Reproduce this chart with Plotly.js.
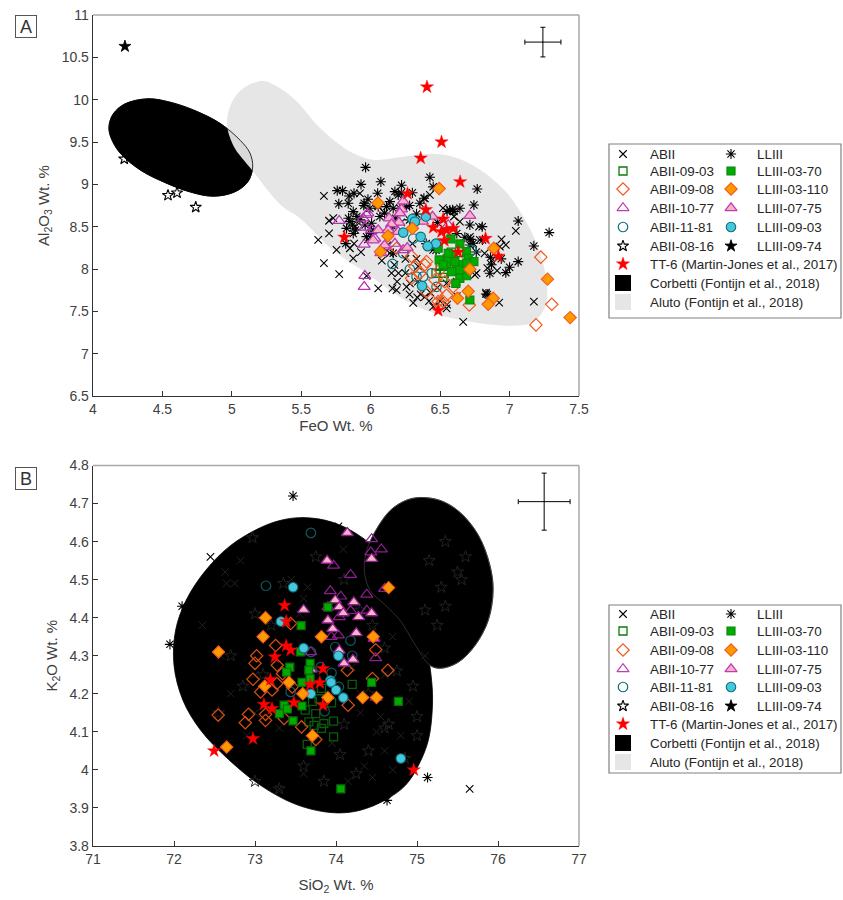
<!DOCTYPE html>
<html>
<head>
<meta charset="utf-8">
<script src="https://cdn.plot.ly/plotly-3.0.1.min.js"></script>
<style>html,body{margin:0;padding:0;background:#fff}#chart{width:843px;height:900px}</style>
</head>
<body>
<div id="chart"></div>
<script>
// ---------- Panel A (FeO, Al2O3) ----------
const aluto_A_x = [5.224,5.31,5.455,5.635,5.83,5.90,6.015,6.21,6.45,6.62,6.79,6.98,7.125,7.22,7.27,7.255,7.17,7.025,6.74,6.45,6.21,5.97,5.73,5.49,5.35,5.145,5.01,4.965,5.0,5.095];
const aluto_A_y = [10.22,10.17,10.0,9.665,9.405,9.35,9.29,9.32,9.36,9.31,9.17,8.90,8.54,8.19,7.79,7.55,7.37,7.33,7.37,7.48,7.67,7.95,8.22,8.60,8.76,9.17,9.46,9.72,9.97,10.15];
const corbetti_A_x = [4.396,4.555,4.735,4.915,5.06,5.13,5.15,5.115,5.02,4.865,4.70,4.52,4.34,4.195,4.13,4.115,4.145,4.23];
const corbetti_A_y = [10.01,9.97,9.87,9.72,9.52,9.37,9.205,9.03,8.91,8.86,8.91,9.02,9.17,9.37,9.55,9.68,9.83,9.95];

const abii_A_x = [5.622,5.70,5.663,5.773,5.754,5.874,5.85,6.054,6.157,6.186,6.19,6.258,6.306,6.335,6.39,5.97,6.666,7.175,6.925,7.045,6.942,6.973,6.762,6.84,6.82,5.663,5.922,5.73,5.70,6.546,6.45,6.282,6.642,6.426,6.39,6.714,6.786,6.75,6.93,6.546,6.342,6.45,6.138,6.22,6.12,6.30,6.52,6.60,6.87,6.43,6.25,6.17,5.98,6.05,5.89,6.91,6.78,6.50,6.36,6.62,6.2,6.28,6.34,6.42,6.48,6.55,6.62,6.25,6.33,6.08,6.15,5.88,5.93,6.12,6.83];
const abii_A_y = [8.343,8.42,8.07,7.94,8.225,8.126,8.245,7.77,7.77,7.75,7.85,7.79,7.60,7.666,7.67,7.92,7.375,7.615,7.603,8.45,8.35,8.284,7.95,8.01,8.185,8.863,8.894,8.6,8.57,7.536,7.556,7.83,8.56,8.875,8.835,8.38,8.343,7.93,8.264,7.83,8.03,8.225,8.186,8.55,8.42,8.30,8.72,8.62,8.10,7.72,7.95,8.05,8.35,8.75,8.50,7.98,8.50,7.62,7.70,7.68,7.95,7.7,7.85,7.62,7.78,7.58,7.85,8.12,8.12,8.1,7.95,8.3,8.2,8.28,7.72];
const lliii_A_x = [5.963,5.93,6.073,6.222,6.426,6.45,6.767,5.759,5.797,5.88,5.845,5.77,5.953,5.98,6.05,6.138,6.174,6.198,6.22,6.383,5.874,5.85,5.826,5.874,6.066,6.054,6.162,6.57,6.642,6.743,6.714,6.803,7.062,7.285,7.175,7.062,7.0,6.973,6.858,6.863,6.83,6.805,6.678,6.162,5.97,5.922,6.006,5.838,6.114,6.258,6.354,6.21,5.994,6.738,6.714,6.59,6.60,6.02,6.10,5.90,5.96,6.28,6.40,6.47,6.84,6.94,5.82,5.89,6.16,6.62,6.28,6.33,6.72,6.76,6.87,5.95,6.0,5.84,5.87,6.55,6.48,6.3,6.18];
const lliii_A_y = [9.2,9.0,9.03,8.99,9.083,8.97,8.945,8.926,8.926,8.894,8.863,8.77,8.776,8.823,8.894,8.796,8.914,8.875,8.90,8.835,8.678,8.56,8.48,8.42,8.62,8.737,8.717,8.697,8.717,8.756,8.52,8.50,8.567,8.43,8.272,8.087,8.02,7.957,7.95,8.138,7.705,8.343,8.375,8.186,8.382,8.58,8.54,8.776,8.737,8.737,8.776,8.717,8.717,8.304,8.284,8.70,8.68,8.46,8.66,8.62,8.52,8.58,8.30,8.22,7.70,8.12,8.30,8.46,8.50,8.42,8.75,8.65,8.35,8.2,8.05,8.75,8.42,8.6,8.52,8.68,8.55,8.9,8.6];
const s0903_A_x = [6.50,6.53,6.60,6.55,6.62,6.65,6.58,6.52,6.47,6.56];
const s0903_A_y = [8.03,7.95,8.0,8.12,8.0,8.1,8.2,7.9,7.95,8.06];
const s0908_A_x = [7.225,7.304,7.19,6.71,6.69,6.186,6.294,6.318,6.294,6.402,6.39,6.498,6.462,6.402,6.474,6.546,6.486,6.522,6.498,6.594,6.534,6.354];
const s0908_A_y = [8.14,7.583,7.34,7.575,7.99,8.245,8.15,8.03,7.89,8.087,8.05,7.99,7.87,7.73,7.71,7.69,7.615,7.615,7.575,7.79,7.85,7.95];
const s1077_A_x = [5.773,5.958,5.953,5.953,5.97,5.946,5.98,5.958,6.006,6.174,6.09,6.558,6.234,6.03];
const s1077_A_y = [8.57,7.92,7.79,8.29,8.64,8.60,8.66,8.49,8.46,8.30,8.26,8.52,8.225,8.36];
const s1181_A_x = [6.157,6.306,6.234,6.282,6.378,6.33,6.474,6.726,6.438,6.318];
const s1181_A_y = [8.06,8.36,8.186,7.997,7.91,7.91,7.79,8.225,7.95,8.56];
const s0816_A_x = [4.54,4.605,4.74,4.225];
const s0816_A_y = [8.87,8.90,8.73,9.30];
const l0370_A_x = [6.577,6.642,6.486,6.69,6.594,6.493,6.558,6.623,6.702,6.743,6.546,6.582,6.642,6.69,6.613,6.714,6.666,6.522,6.606,6.642,6.558,6.69];
const l0370_A_y = [8.355,8.296,8.245,8.205,8.166,8.107,8.10,8.05,8.127,8.087,8.03,7.97,7.89,7.92,7.83,7.634,8.05,8.05,8.087,7.99,8.185,8.07];
const l03110_A_x = [6.493,6.052,6.30,6.124,6.07,6.887,6.714,7.273,6.702,6.625,6.882,6.846,7.436];
const l03110_A_y = [8.95,8.78,8.48,8.39,8.205,8.245,7.997,7.88,7.737,7.654,7.654,7.583,7.426];
const l0775_A_x = [6.234,6.222,6.21,6.133,6.203,6.15,6.054,6.126,6.198,6.018,6.10,6.073,6.263,6.373,6.445,6.714];
const l0775_A_y = [8.80,8.705,8.66,8.60,8.55,8.53,8.46,8.46,8.44,8.34,8.28,8.19,8.25,8.56,8.62,8.63];
const l0903_A_x = [6.30,6.318,6.397,6.234,6.36,6.47,6.41,6.37];
const l0903_A_y = [8.59,8.56,8.62,8.43,8.38,8.30,8.27,7.80];
const l0974_A_x = [4.23];
const l0974_A_y = [10.63];
const tt6_A_x = [6.405,6.51,6.36,6.644,6.265,6.397,6.522,6.45,6.546,6.594,6.51,6.53,5.81,6.827,6.92,6.63,6.486];
const tt6_A_y = [10.15,9.50,9.31,9.03,8.89,8.70,8.59,8.49,8.46,8.48,8.44,8.335,8.375,8.36,8.15,8.20,7.51];
const err_A = {x:[7.24], y:[10.68], ex:[0.13], ey:[0.175]};

// ---------- Panel B (SiO2, K2O) ----------
const blobL_B_x = [73.56,73.87,74.18,74.49,74.73,74.94,75.10,75.18,75.19,75.14,75.02,74.86,74.61,74.30,74.02,73.69,73.38,73.01,72.64,72.33,72.11,72.0,72.02,72.15,72.39,72.70,73.07,73.32];
const blobL_B_y = [4.663,4.656,4.63,4.582,4.524,4.446,4.341,4.236,4.165,4.078,4.013,3.96,3.921,3.894,3.887,3.897,3.921,3.968,4.034,4.104,4.183,4.275,4.367,4.446,4.524,4.59,4.637,4.656];
const blobR_B_x = [75.04,75.29,75.53,75.76,75.90,75.94,75.88,75.72,75.51,75.29,75.16,74.98,74.79,74.61,74.42,74.35,74.38,74.49,74.67,74.86];
const blobR_B_y = [4.716,4.708,4.677,4.616,4.538,4.472,4.393,4.328,4.283,4.267,4.275,4.328,4.393,4.433,4.472,4.524,4.577,4.629,4.682,4.708];

const abii_B_x = [72.45,75.65,74.03];
const abii_B_y = [4.56,3.95,4.64];
const lliii_B_x = [73.47,71.95,72.1,75.13,74.63];
const lliii_B_y = [4.72,4.33,4.43,3.98,3.92];
const hiddenX_B_x = [72.82,72.63,72.75,72.65,72.35,72.58,73.0,73.45,73.6,74.09,73.65,73.55,73.0,72.9,73.3,72.7,74.3,74.5,74.6,74.7,74.45,74.15,74.9,74.2,74.6,73.95,74.35,75.1,74.55,74.8,74.3,73.6,73.3,74.7];
const hiddenX_B_y = [4.55,4.52,4.49,4.49,4.38,4.30,4.25,4.50,4.45,4.58,4.48,4.41,4.15,4.09,4.11,4.2,4.15,4.1,4.05,4.0,3.98,3.97,4.18,4.27,4.25,4.07,4.01,4.3,4.14,4.09,4.2,3.99,3.95,4.35];
const hiddenAst_B_x = [72.97,73.0,73.35,73.1,72.7,72.55,72.85,73.2,73.75,74.1,74.3,74.45,74.6,74.75,74.95,75.0,74.4,74.25,74.05,73.85,74.65,74.85,73.6,73.3,73.0,74.1,74.4,74.6,75.0,75.15,75.3,75.35,75.5,75.6,75.35,75.1,75.55,75.25];
const hiddenAst_B_y = [4.61,4.41,4.49,4.25,4.3,4.15,4.22,4.38,4.56,4.5,4.42,4.38,4.32,4.26,4.22,4.14,4.05,3.99,4.04,3.97,4.12,4.03,4.01,3.95,3.97,4.12,4.2,4.11,4.09,4.55,4.48,4.6,4.52,4.56,4.43,4.42,4.5,4.38];
const s0903_B_x = [74.2,73.62,73.71,73.75,73.665,73.73,73.85,73.82,73.97,73.97,73.645,73.945,73.79,73.82];
const s0903_B_y = [4.225,4.157,4.18,4.148,4.126,4.117,4.122,4.109,4.128,4.087,4.067,4.176,4.187,4.214];
const s0908_B_x = [73.44,73.255,73.02,73.0,74.49,74.64,74.14,72.975,73.275,73.27,73.07,73.21,72.545,72.92,72.88,73.13,73.13,73.36,73.575,73.75,74.15,74.45,73.34,73.46];
const s0908_B_y = [4.385,4.327,4.30,4.28,4.316,4.262,4.262,4.238,4.275,4.227,4.205,4.21,4.144,4.146,4.124,4.146,4.13,4.135,4.113,4.08,4.17,4.24,4.253,4.218];
const s1077_B_x = [74.44,74.56,74.43,73.97,74.18,73.93,74.06,74.38,74.60,73.90,74.18,74.38,74.04,74.03,73.94,74.49,73.69,74.495];
const s1077_B_y = [4.607,4.58,4.572,4.537,4.513,4.47,4.456,4.461,4.476,4.428,4.418,4.419,4.402,4.354,4.35,4.294,4.31,4.19];
const s1181_B_x = [73.69,73.135,73.945,74.18,73.99,74.2,73.69,73.81,73.44,74.035,73.86];
const s1181_B_y = [4.623,4.484,4.255,4.34,4.323,4.30,4.31,4.27,4.205,4.218,4.154];
const l0370_B_x = [73.57,73.9,73.56,73.43,73.39,73.68,73.68,73.58,73.36,73.40,73.30,73.47,73.58,73.69,74.06,74.44,74.77,73.665];
const l0370_B_y = [4.379,4.428,4.31,4.27,4.257,4.28,4.24,4.23,4.17,4.16,4.148,4.129,4.168,4.05,3.95,4.23,4.18,4.262];
const l03110_B_x = [73.13,73.10,72.55,73.82,74.46,74.65,73.12,73.42,73.59,73.90,74.33,74.50,73.71,72.65];
const l03110_B_y = [4.40,4.35,4.31,4.35,4.35,4.479,4.22,4.23,4.20,4.19,4.19,4.19,4.09,4.06];
const l0775_B_x = [74.14,73.89,74.44,73.60,74.22,73.99,74.04,74.09,74.28,74.44,73.90,73.96,74.25,74.47,74.04,74.10,74.21,73.69];
const l0775_B_y = [4.623,4.55,4.555,4.421,4.441,4.446,4.428,4.412,4.402,4.412,4.393,4.371,4.36,4.345,4.314,4.28,4.29,4.264];
const l0903_B_x = [73.47,73.32,73.60,74.03,73.93,73.69,73.94,74.0,74.09,74.80];
const l0903_B_y = [4.48,4.39,4.32,4.30,4.235,4.20,4.23,4.21,4.19,4.03];
const tt6_B_x = [73.365,73.385,73.385,73.44,73.245,73.84,73.19,73.68,73.80,73.11,73.21,73.48,73.84,72.975,72.495,74.96];
const tt6_B_y = [4.432,4.39,4.326,4.315,4.297,4.266,4.237,4.224,4.229,4.172,4.161,4.177,4.17,4.082,4.05,4.0];
const err_B = {x:[76.57], y:[4.705], ex:[0.32], ey:[0.075]};

// ---------- Legend text ----------
const legendLeft = ['ABII','ABII-09-03','ABII-09-08','ABII-10-77','ABII-11-81','ABII-08-16'];
const legendRight = ['LLIII','LLIII-03-70','LLIII-03-110','LLIII-07-75','LLIII-09-03','LLIII-09-74'];
const legendWide = ['TT-6 (Martin-Jones et al., 2017)','Corbetti (Fontijn et al., 2018)','Aluto (Fontijn et al., 2018)'];

// ---------- Styles ----------
const W = 843, H = 900;
const FONT = '"Liberation Sans", Arial, sans-serif';
const TXT = '#404040';
const open = (symbol,size,c,width)=>({symbol,size,color:c,line:{color:c,width}});
const S = {
  abii:  open('x-thin-open',7.5,'#000',1.1),
  lliii: open('asterisk-open',8.5,'#000',1.1),
  s0903: c=>open('square-open',8,c,1.3),
  s0908: c=>open('diamond-open',9.5,c,1.2),
  s1077: c=>open('triangle-up-open',10.5,c,1.2),
  s1181: c=>open('circle-open',9.5,c,1.2),
  s0816: open('star-open',8.5,'#000',1.1),
  l0370: c=>({symbol:'square', size:8, color:'#00ab00', line:{color:c,width:1.2}}),
  l03110:{symbol:'diamond', size:9.5, color:'#ff9900', line:{color:'#f2591d',width:1.1}},
  l0775: c=>({symbol:'triangle-up', size:10.5, color:'#f5b5c5', line:{color:c,width:1.3}}),
  l0903: {symbol:'circle', size:9.5, color:'#45c8de', line:{color:'#0e6e78',width:1.1}},
  l0974: {symbol:'star', size:9, color:'#000', line:{color:'#000',width:0.8}},
  tt6:   {symbol:'star', size:10, color:'#ff0000', line:{color:'#ff0000',width:0.4}}
};
const pts = (x,y,marker,xa,ya,name)=>({type:'scatter',mode:'markers',x,y,marker,xaxis:xa,yaxis:ya,name,showlegend:false,hoverinfo:'x+y+name',cliponaxis:true});
const area = (x,y,fillcolor,lineColor,xa,ya,name)=>({type:'scatter',mode:'lines',x:x.concat(x[0]),y:y.concat(y[0]),fill:'toself',fillcolor,line:{color:lineColor,width:0.8,shape:'spline',smoothing:1},xaxis:xa,yaxis:ya,name,showlegend:false,hoverinfo:'name'});
const outline = (x,y,c,xa,ya)=>({type:'scatter',mode:'lines',x:x.concat(x[0]),y:y.concat(y[0]),line:{color:c,width:0.8,shape:'spline',smoothing:1},xaxis:xa,yaxis:ya,showlegend:false,hoverinfo:'skip'});
const cross = (e,xa,ya)=>({type:'scatter',mode:'markers',x:e.x,y:e.y,marker:{size:1,color:'#000'},xaxis:xa,yaxis:ya,showlegend:false,hoverinfo:'skip',
  error_x:{type:'data',array:e.ex,visible:true,color:'#000',thickness:1,width:2.5},error_y:{type:'data',array:e.ey,visible:true,color:'#000',thickness:1,width:2.5}});

const traces = [
  // Panel A
  area(corbetti_A_x,corbetti_A_y,'#000','#000','x','y','Corbetti'),
  area(aluto_A_x,aluto_A_y,'rgba(229,229,229,0.95)','rgba(0,0,0,0)','x','y','Aluto'),
  outline(corbetti_A_x,corbetti_A_y,'#000','x','y'),
  pts(abii_A_x,abii_A_y,S.abii,'x','y','ABII'),
  pts(lliii_A_x,lliii_A_y,S.lliii,'x','y','LLIII'),
  pts(s0816_A_x,s0816_A_y,S.s0816,'x','y','ABII-08-16'),
  pts(l0974_A_x,l0974_A_y,S.l0974,'x','y','LLIII-09-74'),
  pts(s0903_A_x,s0903_A_y,S.s0903('#0b7a0b'),'x','y','ABII-09-03'),
  pts(s1181_A_x,s1181_A_y,S.s1181('#0e6e78'),'x','y','ABII-11-81'),
  pts(s0908_A_x,s0908_A_y,S.s0908('#f2591d'),'x','y','ABII-09-08'),
  pts(s1077_A_x,s1077_A_y,S.s1077('#b52fae'),'x','y','ABII-10-77'),
  pts(l0775_A_x,l0775_A_y,S.l0775('#c03bb5'),'x','y','LLIII-07-75'),
  pts(l0370_A_x,l0370_A_y,S.l0370('#0b8a0b'),'x','y','LLIII-03-70'),
  pts(l0903_A_x,l0903_A_y,S.l0903,'x','y','LLIII-09-03'),
  pts(l03110_A_x,l03110_A_y,S.l03110,'x','y','LLIII-03-110'),
  pts(tt6_A_x,tt6_A_y,S.tt6,'x','y','TT-6'),
  cross(err_A,'x','y'),
  // Panel B
  pts(abii_B_x,abii_B_y,S.abii,'x2','y2','ABII'),
  pts(lliii_B_x,lliii_B_y,S.lliii,'x2','y2','LLIII'),
  area(blobR_B_x,blobR_B_y,'#000','#555','x2','y2','Aluto'),
  area(blobL_B_x,blobL_B_y,'#000','#000','x2','y2','Corbetti'),
  outline(blobR_B_x,blobR_B_y,'#3a3a3a','x2','y2'),
  pts(hiddenX_B_x,hiddenX_B_y,open('x-thin-open',7.5,'#222',1),'x2','y2','ABII'),
  pts(hiddenAst_B_x,hiddenAst_B_y,open('star-open',9,'#222',1),'x2','y2','LLIII'),
  pts(s0903_B_x,s0903_B_y,S.s0903('#0c5a0c'),'x2','y2','ABII-09-03'),
  pts(s1181_B_x,s1181_B_y,S.s1181('#0f5a60'),'x2','y2','ABII-11-81'),
  pts(s0908_B_x,s0908_B_y,S.s0908('#d9500f'),'x2','y2','ABII-09-08'),
  pts(s1077_B_x,s1077_B_y,S.s1077('#8e1e8e'),'x2','y2','ABII-10-77'),
  pts(l0775_B_x,l0775_B_y,S.l0775('#8e1e8e'),'x2','y2','LLIII-07-75'),
  pts(l0370_B_x,l0370_B_y,S.l0370('#0a6a0a'),'x2','y2','LLIII-03-70'),
  pts(l0903_B_x,l0903_B_y,S.l0903,'x2','y2','LLIII-09-03'),
  pts(l03110_B_x,l03110_B_y,S.l03110,'x2','y2','LLIII-03-110'),
  pts(tt6_B_x,tt6_B_y,S.tt6,'x2','y2','TT-6'),
  cross(err_B,'x2','y2')
];

// ---------- Manual two-column legends, drawn in their own axes measured in page pixels ----------
const annotations = [];
const shapes = [];
const legendBox = {left:609,right:841,colL:623,colR:731,txtL:649,txtR:756,swatch:623};
const leftStyles = [S.abii,S.s0903('#0b7a0b'),S.s0908('#f2591d'),S.s1077('#c03bb5'),S.s1181('#0e6e78'),S.s0816];
const rightStyles = [S.lliii,S.l0370('#0b8a0b'),S.l03110,S.l0775('#c03bb5'),S.l0903,S.l0974];
function addLegend(r,ry,rows){
  leftStyles.forEach((m,i)=>traces.push(pts([legendBox.colL],[rows[i]],m,r,ry,legendLeft[i])));
  rightStyles.forEach((m,i)=>traces.push(pts([legendBox.colR],[rows[i]],m,r,ry,legendRight[i])));
  traces.push(pts([legendBox.colL],[rows[6]],S.tt6,r,ry,legendWide[0]));
  traces.push(pts([legendBox.swatch],[rows[7]],{symbol:'square',size:16,color:'#000',line:{width:0}},r,ry,legendWide[1]));
  traces.push(pts([legendBox.swatch],[rows[8]],{symbol:'square',size:16,color:'#e6e6e6',line:{width:0}},r,ry,legendWide[2]));
  const t = (x,y,text)=>annotations.push({xref:r,yref:ry,x,y,text,showarrow:false,xanchor:'left',yanchor:'middle',xshift:-1,font:{family:FONT,size:13.4,color:'#262626'}});
  legendLeft.forEach((s,i)=>t(legendBox.txtL,rows[i],s));
  legendRight.forEach((s,i)=>t(legendBox.txtR,rows[i],s));
  legendWide.forEach((s,i)=>t(legendBox.txtL,rows[i+6],s));
}
const rows1 = [154,171,189,208,227,246,264,283,302];
const rows2 = [614,631,650,669,687,706,724,743,762];
addLegend('x3','y3',rows1);
addLegend('x4','y4',rows2);

const panel = (l,r,t,b)=>({xd:[l/W,r/W],yd:[1-b/H,1-t/H]});
const pA = panel(93,579,15,396), pB = panel(93,579,465.5,846);
const L1 = panel(609,841,144,318), L2 = panel(609,841,605,773);
const axisBase = {showgrid:false,zeroline:false,showline:true,linecolor:'#333',linewidth:1.3,ticks:'inside',ticklen:5,tickcolor:'#333',tickwidth:1,
  tickfont:{family:FONT,size:14,color:TXT}};
const hiddenAxis = {showgrid:false,zeroline:false,showline:false,showticklabels:false,ticks:'',fixedrange:true};
const ttl = (text,standoff)=>({text,standoff,font:{family:FONT,size:15,color:TXT}});

// grey top and right borders + legend frames + panel letters
[pA,pB].forEach(p=>{
  shapes.push({type:'line',xref:'paper',yref:'paper',x0:p.xd[0],x1:p.xd[1],y0:p.yd[1],y1:p.yd[1],line:{color:'#a8a8a8',width:1.5}});
  shapes.push({type:'line',xref:'paper',yref:'paper',x0:p.xd[1],x1:p.xd[1],y0:p.yd[0],y1:p.yd[1],line:{color:'#a8a8a8',width:1.5}});
});
[L1,L2].forEach(p=>shapes.push({type:'rect',xref:'paper',yref:'paper',x0:p.xd[0],x1:p.xd[1],y0:p.yd[0],y1:p.yd[1],line:{color:'#808080',width:1.2},fillcolor:'rgba(0,0,0,0)',layer:'below'}));
const letter = (s,y)=>annotations.push({xref:'paper',yref:'paper',x:26/W,y:1-y/H,text:s,showarrow:false,xanchor:'center',yanchor:'middle',width:20,height:21,borderwidth:1,bordercolor:'#555',borderpad:0,font:{family:FONT,size:18,color:'#333'}});
letter('A',26.5);
letter('B',478);

const layout = {
  width:W,height:H,margin:{l:0,r:0,t:0,b:0},paper_bgcolor:'#fff',plot_bgcolor:'#fff',showlegend:false,
  xaxis:Object.assign({},axisBase,{domain:pA.xd,range:[4,7.5],dtick:0.5,tick0:4,anchor:'y',title:ttl('FeO Wt. %',0)}),
  yaxis:Object.assign({},axisBase,{domain:pA.yd,range:[6.5,11],dtick:0.5,tick0:6.5,anchor:'x',title:ttl('Al<sub>2</sub>O<sub>3</sub> Wt. %',8)}),
  xaxis2:Object.assign({},axisBase,{domain:pB.xd,range:[71,77],dtick:1,anchor:'y2',title:ttl('SiO<sub>2</sub> Wt. %',13)}),
  yaxis2:Object.assign({},axisBase,{domain:pB.yd,range:[3.8,4.8],dtick:0.1,tick0:3.8,anchor:'x2',title:ttl('K<sub>2</sub>O Wt. %',8)}),
  xaxis3:Object.assign({},hiddenAxis,{domain:L1.xd,range:[609,841],anchor:'y3'}),
  yaxis3:Object.assign({},hiddenAxis,{domain:L1.yd,range:[318,144],anchor:'x3'}),
  xaxis4:Object.assign({},hiddenAxis,{domain:L2.xd,range:[609,841],anchor:'y4'}),
  yaxis4:Object.assign({},hiddenAxis,{domain:L2.yd,range:[773,605],anchor:'x4'}),
  shapes,annotations,font:{family:FONT}
};
Plotly.newPlot('chart',traces,layout,{displayModeBar:false,staticPlot:true});
</script>
</body>
</html>
